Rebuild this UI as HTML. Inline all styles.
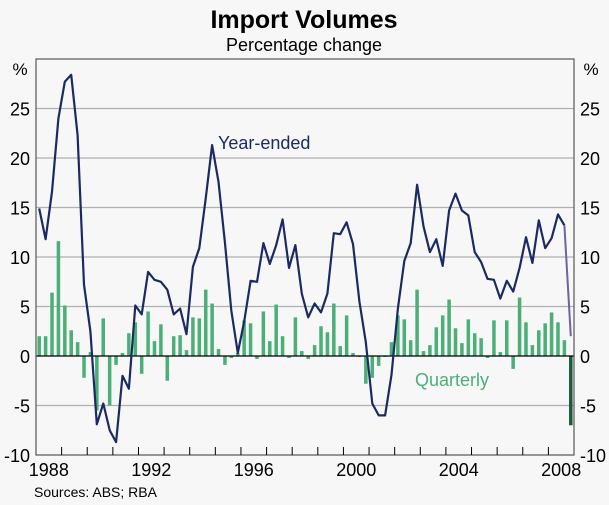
<!DOCTYPE html>
<html><head><meta charset="utf-8"><style>
body{margin:0;background:#f7f7f7;}
svg{display:block;font-family:"Liberation Sans",Arial,sans-serif;}
</style></head><body>
<svg id="chart" width="609" height="505" viewBox="0 0 609 505">
<rect x="0" y="0" width="609" height="505" fill="#f7f7f7"/>
<text x="304" y="28" text-anchor="middle" font-size="25" font-weight="bold" fill="#000">Import Volumes</text>
<text x="304" y="51" text-anchor="middle" font-size="18" fill="#000">Percentage change</text>
<text x="20" y="75" text-anchor="middle" font-size="17">%</text>
<text x="591" y="75" text-anchor="middle" font-size="17">%</text>
<g id="grid"></g><g id="bars"></g><g id="lines"></g><g id="axes"></g>
<text x="218" y="149" font-size="18" fill="#1b2a63">Year-ended</text>
<text x="415" y="386" font-size="18" fill="#4caf78">Quarterly</text>
<text x="34" y="497" font-size="14">Sources: ABS; RBA</text>
</svg>
<script>
const quarterly=[2.0,2.0,6.4,11.6,5.1,2.6,1.4,-2.2,0.4,-5.5,3.8,-5.0,-0.9,0.3,2.3,3.4,-1.8,4.5,1.5,3.2,-2.5,2.0,2.1,0.6,3.9,3.8,6.7,5.3,0.7,-0.9,-0.2,0.3,3.6,3.3,-0.3,4.5,1.5,5.2,2.0,-0.2,3.9,0.5,-0.3,1.1,3.0,2.4,5.3,1.0,4.1,0.3,-0.1,-2.8,-2.2,-1.0,-0.1,1.4,4.1,3.7,1.6,6.7,0.5,1.1,2.9,4.1,5.7,2.8,1.3,3.7,2.3,1.8,-0.2,3.6,0.4,3.6,-1.3,5.9,3.4,1.1,2.6,3.3,4.4,3.4,1.6,-7.0];
const yearEnded=[14.9,11.8,16.6,24.0,27.7,28.4,22.3,7.2,2.5,-6.9,-4.8,-7.5,-8.7,-2.0,-3.3,5.1,4.2,8.5,7.7,7.5,6.7,4.2,4.8,2.2,9.0,10.9,15.9,21.3,17.6,11.5,4.6,0.3,3.5,7.6,7.5,11.4,9.3,11.2,13.8,8.9,11.2,6.3,3.9,5.3,4.4,6.3,12.4,12.3,13.5,11.3,5.5,1.4,-4.8,-6.0,-6.0,-1.9,4.8,9.6,11.4,17.3,13.1,10.5,11.8,9.1,14.7,16.4,14.7,14.2,10.5,9.5,7.8,7.7,5.8,7.6,6.5,8.9,12.0,9.4,13.7,10.9,11.9,14.3,13.2,2.0];
const yTicks=[-10,-5,0,5,10,15,20,25];
const xLabels=[1988,1992,1996,2000,2004,2008];
const startYear=1988, endYear=2009, yMin=-10, yMax=30;
const X0=36,X1=574,Y0=455,Y1=59;
const NS="http://www.w3.org/2000/svg";
function xs(t){return X0+(t-startYear)/(endYear-startYear)*(X1-X0);}
function ys(v){return Y0-(v-yMin)/(yMax-yMin)*(Y0-Y1);}
function qx(i){return xs(startYear+(i+0.5)/4);}
function mk(tag,attrs,parent){const e=document.createElementNS(NS,tag);for(const k in attrs)e.setAttribute(k,attrs[k]);document.getElementById(parent).appendChild(e);return e;}
yTicks.forEach(v=>{
 if(v!==yMin&&v!==0){const l=mk('line',{x1:X0,x2:X1,y1:ys(v),y2:ys(v),stroke:'#b0b0b0','stroke-width':1.3},'grid');
 
 }
 const a=mk('text',{x:30,y:ys(v)+7,'text-anchor':'end','font-size':18},'axes');a.textContent=v;
 
 
 const b=mk('text',{x:580,y:ys(v)+7,'text-anchor':'start','font-size':18},'axes');b.textContent=v;
 
 
});
const bw=(X1-X0)/(endYear-startYear)/4*0.55;
quarterly.forEach((v,i)=>{
 const y=Math.min(ys(v),ys(0)),h=Math.abs(ys(v)-ys(0));
 const r=mk('rect',{x:qx(i)-bw/2,y:y,width:bw,height:h,fill:i===quarterly.length-1?'#1d5a3a':'#4caf78'},'bars');
 
 
});
const zl=mk('line',{x1:X0,x2:X1,y1:ys(0),y2:ys(0),stroke:'#000','stroke-width':1.2},'lines');


const n=yearEnded.length;
const pts=yearEnded.slice(0,n-1).map((v,i)=>qx(i).toFixed(1)+','+ys(v).toFixed(1)).join(' ');
const pl=mk('polyline',{points:pts,fill:'none',stroke:'#1b2a63','stroke-width':2.2,'stroke-linejoin':'round'},'lines');


const last=mk('line',{x1:qx(n-2),y1:ys(yearEnded[n-2]),x2:qx(n-1),y2:ys(yearEnded[n-1]),stroke:'#6a63a8','stroke-width':2},'lines');


const fr=mk('rect',{x:X0,y:Y1,width:X1-X0,height:Y0-Y1,fill:'none',stroke:'#555','stroke-width':1.2},'axes');


for(let yr=startYear+1;yr<endYear;yr++){
 const t=mk('line',{x1:xs(yr),x2:xs(yr),y1:Y0,y2:Y0-8,stroke:'#000','stroke-width':1},'axes');
 
 
}
xLabels.forEach(yr=>{
 const t=mk('text',{x:xs(yr+0.5),y:476,'text-anchor':'middle','font-size':18},'axes');t.textContent=yr;
 
 
});
</script>
</body></html>
